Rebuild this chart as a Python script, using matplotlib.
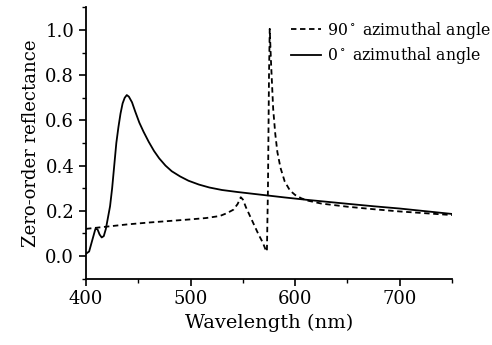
import matplotlib
matplotlib.use("Agg")
import matplotlib.pyplot as plt
from matplotlib.ticker import MultipleLocator

# 0 deg azimuthal angle (solid)
wl_0 = [400, 403, 406, 409, 411, 413, 415, 417, 419, 421, 423, 425, 427, 429,
        431, 433, 435, 437, 439, 441, 444, 447, 451, 455, 460, 465, 470, 476,
        482, 490, 498, 508, 518, 530, 545, 560, 575, 590, 610, 630, 650, 675,
        700, 725, 750]
refl_0 = [0.01, 0.02, 0.07, 0.12, 0.118, 0.095, 0.082, 0.088, 0.12, 0.17, 0.22,
          0.30, 0.40, 0.50, 0.57, 0.63, 0.675, 0.70, 0.712, 0.705, 0.68, 0.64,
          0.59, 0.55, 0.505, 0.465, 0.432, 0.40, 0.375, 0.352, 0.333, 0.316,
          0.303, 0.292, 0.283, 0.275, 0.267, 0.259, 0.249, 0.240, 0.231, 0.220,
          0.210, 0.198, 0.186]

# 90 deg azimuthal angle (dashed)
wl_90 = [400, 410, 420, 440, 460, 480, 500, 515, 528, 535, 541, 545, 548, 550,
         553, 557, 561, 565, 569, 572, 573, 574, 575, 575.7, 577, 579, 581, 583,
         586, 590, 595, 600, 606, 612, 625, 650, 675, 700, 725, 750]
refl_90 = [0.12, 0.125, 0.13, 0.14, 0.148, 0.155, 0.162, 0.168, 0.177, 0.19,
           0.205, 0.23, 0.26, 0.25, 0.215, 0.175, 0.135, 0.095, 0.06, 0.025,
           0.02, 0.3, 0.8, 1.005, 0.85, 0.65, 0.54, 0.46, 0.39, 0.33, 0.29, 0.27,
           0.255, 0.245, 0.232, 0.218, 0.207, 0.197, 0.189, 0.181]

plt.rcParams['font.family'] = 'DejaVu Serif'
plt.rcParams['mathtext.fontset'] = 'dejavuserif'

fig = plt.figure(figsize=(4.92, 3.45), dpi=100)
ax = fig.add_axes([0.1748, 0.1925, 0.9187 - 0.1748, 0.9786 - 0.1925])

ax.plot(wl_90, refl_90, color='black', lw=1.3, linestyle=(0, (3, 2)),
        label=r'90$^\circ$ azimuthal angle')
ax.plot(wl_0, refl_0, color='black', lw=1.3, label=r'0$^\circ$ azimuthal angle')

ax.set_xlim(400, 750)
ax.set_ylim(-0.1, 1.1)
ax.xaxis.set_major_locator(MultipleLocator(100))
ax.xaxis.set_minor_locator(MultipleLocator(50))
ax.yaxis.set_major_locator(MultipleLocator(0.2))
ax.yaxis.set_minor_locator(MultipleLocator(0.1))
ax.yaxis.set_major_formatter(plt.FormatStrFormatter('%.1f'))

for side in ['top', 'right']:
    ax.spines[side].set_visible(False)
for side in ['left', 'bottom']:
    ax.spines[side].set_linewidth(1.3)
ax.tick_params(which='major', direction='out', length=5, width=1.2, labelsize=13)
ax.tick_params(which='minor', direction='out', length=3, width=1.0)

ax.set_xlabel('Wavelength (nm)', fontsize=14)
ax.set_ylabel('Zero-order reflectance', fontsize=13)

leg = ax.legend(loc='upper left', bbox_to_anchor=(0.56, 0.955), frameon=False,
                fontsize=11.3, handlelength=1.9, handletextpad=0.4,
                labelspacing=0.3, borderaxespad=0, borderpad=0)

fig.savefig('out.png', dpi=100)
